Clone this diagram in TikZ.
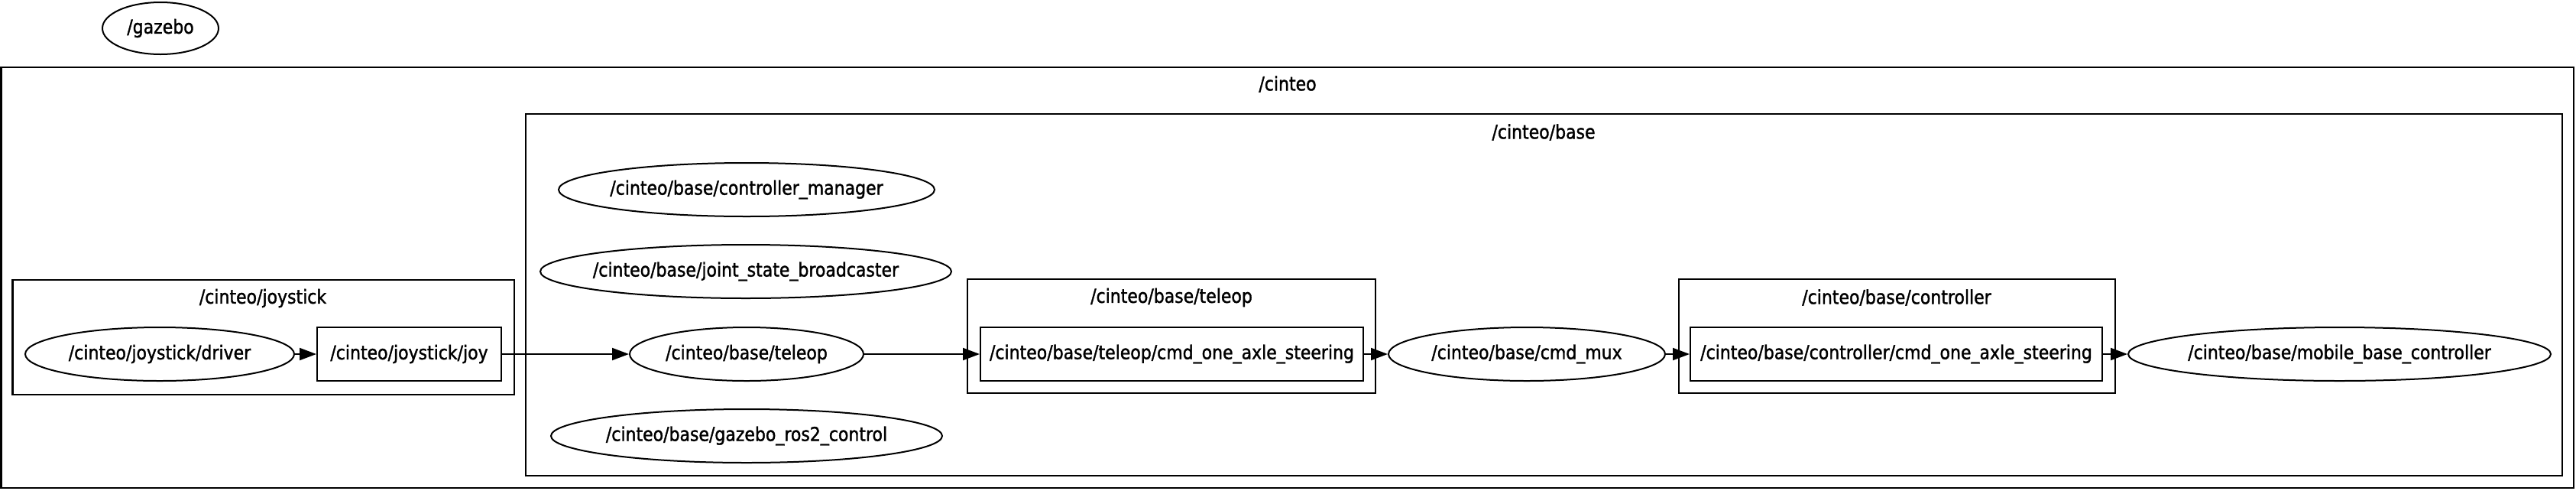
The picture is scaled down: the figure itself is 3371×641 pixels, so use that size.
\documentclass[tikz,border=0pt]{standalone}
\usepackage{fontspec}
\setmainfont{DejaVu Sans}[FakeStretch=0.88,FakeBold=1.5]
\usetikzlibrary{shapes.geometric,arrows.meta}
\begin{document}
\begin{tikzpicture}[x=1pt,y=-1pt,
  every node/.style={font=\fontsize{25}{30}\selectfont, inner sep=0pt},
  ell/.style={draw, ellipse, line width=2pt, minimum height=70pt, inner xsep=-120pt, inner ysep=-20pt},
  topicbox/.style={draw, rectangle, line width=2pt, minimum height=70pt, inner xsep=-20pt, inner ysep=-10pt},
  cluster/.style={draw, line width=2.5pt},
  conn/.style={-{Triangle[length=22pt,width=16pt]}, line width=2pt},
]
\useasboundingbox (0,0) rectangle (3371,641);

% clusters
\draw[cluster] (1.5,88) rectangle (3368,638);
\node (lcinteo) at (1685,110) {/cinteo};
\draw[cluster] (688,149) rectangle (3353,622);
\node (lbase) at (2020,173) {/cinteo/base};
\draw[cluster] (16.5,366) rectangle (673,516);
\node (ljoystick) at (344,390) {/cinteo/joystick};
\draw[cluster] (1266,365) rectangle (1800,514);
\node (lteleopc) at (1533,389) {/cinteo/base/teleop};
\draw[cluster] (2197,365) rectangle (2768,514);
\node (lcontrollerc) at (2482,389) {/cinteo/base/controller};

% nodes
\node[ell, minimum width=152pt, minimum height=68pt, inner xsep=-40pt] (gazebo) at (210,37) {/gazebo};
\node[ell, minimum width=352pt] (driver) at (209,463) {/cinteo/joystick/driver};
\node[topicbox, minimum width=241pt] (joy) at (535.5,463) {/cinteo/joystick/joy};
\node[ell, minimum width=492pt] (cm) at (977,248) {/cinteo/base/controller\_manager};
\node[ell, minimum width=538pt] (jsb) at (976,355) {/cinteo/base/joint\_state\_broadcaster};
\node[ell, minimum width=306pt] (teleop) at (977,463) {/cinteo/base/teleop};
\node[ell, minimum width=512pt] (grc) at (977,570) {/cinteo/base/gazebo\_ros2\_control};
\node[topicbox, minimum width=501pt] (tcmd) at (1533.5,463) {/cinteo/base/teleop/cmd\_one\_axle\_steering};
\node[ell, minimum width=362pt] (mux) at (1998,463) {/cinteo/base/cmd\_mux};
\node[topicbox, minimum width=539pt] (ccmd) at (2481.5,463) {/cinteo/base/controller/cmd\_one\_axle\_steering};
\node[ell, minimum width=553pt] (mbc) at (3061.5,463) {/cinteo/base/mobile\_base\_controller};

% connectors
\draw[conn] (driver) -- (joy);
\draw[conn] (joy) -- (teleop);
\draw[conn] (teleop) -- (tcmd);
\draw[conn] (tcmd) -- (mux);
\draw[conn] (mux) -- (ccmd);
\draw[conn] (ccmd) -- (mbc);
\end{tikzpicture}
\end{document}
